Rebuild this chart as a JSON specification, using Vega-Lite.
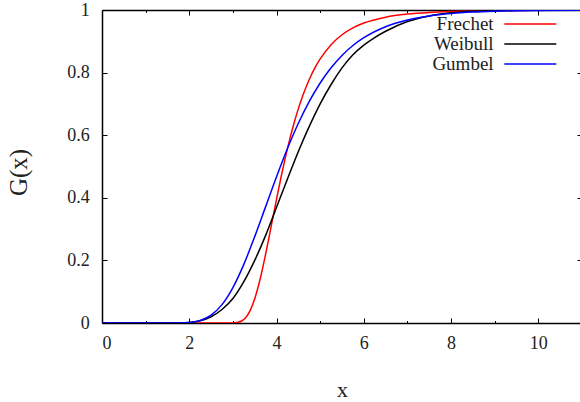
{
  "$schema": "https://vega.github.io/schema/vega-lite/v6.json",
  "width": 480,
  "height": 313,
  "autosize": {"type": "none"},
  "padding": {"left": 102, "top": 10, "right": 0, "bottom": 79},
  "background": "white",
  "config": {
    "view": {"stroke": null},
    "font": "Liberation Serif",
    "axis": {
      "grid": false,
      "domainColor": "#000000",
      "domainWidth": 1.5,
      "tickColor": "#000000",
      "tickWidth": 1,
      "labelFont": "Liberation Serif",
      "labelFontSize": 18,
      "labelColor": "#222222",
      "titleFont": "Liberation Serif",
      "titleFontSize": 22,
      "titleFontWeight": "normal",
      "titleColor": "#222222"
    }
  },
  "data": {
    "values": [
      {"dist": "Frechet", "x": 0, "G": 0},
      {"dist": "Frechet", "x": 2.5, "G": 0},
      {"dist": "Frechet", "x": 2.75, "G": 0},
      {"dist": "Frechet", "x": 3.0, "G": 0.0003},
      {"dist": "Frechet", "x": 3.1, "G": 0.0016},
      {"dist": "Frechet", "x": 3.2, "G": 0.0064},
      {"dist": "Frechet", "x": 3.3, "G": 0.0183},
      {"dist": "Frechet", "x": 3.4, "G": 0.0413},
      {"dist": "Frechet", "x": 3.5, "G": 0.0776},
      {"dist": "Frechet", "x": 3.6, "G": 0.127},
      {"dist": "Frechet", "x": 3.7, "G": 0.1873},
      {"dist": "Frechet", "x": 3.8, "G": 0.2546},
      {"dist": "Frechet", "x": 3.9, "G": 0.3252},
      {"dist": "Frechet", "x": 4.0, "G": 0.396},
      {"dist": "Frechet", "x": 4.1, "G": 0.4641},
      {"dist": "Frechet", "x": 4.2, "G": 0.5276},
      {"dist": "Frechet", "x": 4.3, "G": 0.5859},
      {"dist": "Frechet", "x": 4.4, "G": 0.6383},
      {"dist": "Frechet", "x": 4.5, "G": 0.6849},
      {"dist": "Frechet", "x": 4.6, "G": 0.726},
      {"dist": "Frechet", "x": 4.75, "G": 0.778},
      {"dist": "Frechet", "x": 4.9, "G": 0.8204},
      {"dist": "Frechet", "x": 5.0, "G": 0.8437},
      {"dist": "Frechet", "x": 5.25, "G": 0.8893},
      {"dist": "Frechet", "x": 5.5, "G": 0.921},
      {"dist": "Frechet", "x": 5.75, "G": 0.943},
      {"dist": "Frechet", "x": 6.0, "G": 0.9584},
      {"dist": "Frechet", "x": 6.5, "G": 0.9771},
      {"dist": "Frechet", "x": 7.0, "G": 0.9869},
      {"dist": "Frechet", "x": 7.5, "G": 0.9922},
      {"dist": "Frechet", "x": 8.0, "G": 0.9952},
      {"dist": "Frechet", "x": 9.0, "G": 0.998},
      {"dist": "Frechet", "x": 10.0, "G": 0.9991},
      {"dist": "Frechet", "x": 11.0, "G": 0.9996},
      {"dist": "Weibull", "x": 0, "G": 0},
      {"dist": "Weibull", "x": 1, "G": 0},
      {"dist": "Weibull", "x": 1.5, "G": 0.00002},
      {"dist": "Weibull", "x": 1.75, "G": 0.0002},
      {"dist": "Weibull", "x": 2.0, "G": 0.0015},
      {"dist": "Weibull", "x": 2.25, "G": 0.007},
      {"dist": "Weibull", "x": 2.5, "G": 0.02},
      {"dist": "Weibull", "x": 2.75, "G": 0.043},
      {"dist": "Weibull", "x": 3.0, "G": 0.078},
      {"dist": "Weibull", "x": 3.25, "G": 0.132},
      {"dist": "Weibull", "x": 3.5, "G": 0.2},
      {"dist": "Weibull", "x": 3.75, "G": 0.28},
      {"dist": "Weibull", "x": 4.0, "G": 0.37},
      {"dist": "Weibull", "x": 4.25, "G": 0.46},
      {"dist": "Weibull", "x": 4.5, "G": 0.548},
      {"dist": "Weibull", "x": 4.75, "G": 0.628},
      {"dist": "Weibull", "x": 5.0, "G": 0.70},
      {"dist": "Weibull", "x": 5.25, "G": 0.762},
      {"dist": "Weibull", "x": 5.5, "G": 0.815},
      {"dist": "Weibull", "x": 5.75, "G": 0.857},
      {"dist": "Weibull", "x": 6.0, "G": 0.888},
      {"dist": "Weibull", "x": 6.25, "G": 0.912},
      {"dist": "Weibull", "x": 6.5, "G": 0.932},
      {"dist": "Weibull", "x": 7.0, "G": 0.963},
      {"dist": "Weibull", "x": 7.5, "G": 0.981},
      {"dist": "Weibull", "x": 8.0, "G": 0.991},
      {"dist": "Weibull", "x": 8.5, "G": 0.996},
      {"dist": "Weibull", "x": 9.0, "G": 0.998},
      {"dist": "Weibull", "x": 9.5, "G": 0.9993},
      {"dist": "Weibull", "x": 10.0, "G": 0.9998},
      {"dist": "Weibull", "x": 11.0, "G": 1},
      {"dist": "Gumbel", "x": 0, "G": 0},
      {"dist": "Gumbel", "x": 1, "G": 0},
      {"dist": "Gumbel", "x": 1.5, "G": 0.00003},
      {"dist": "Gumbel", "x": 1.75, "G": 0.0003},
      {"dist": "Gumbel", "x": 2.0, "G": 0.0019},
      {"dist": "Gumbel", "x": 2.25, "G": 0.0082},
      {"dist": "Gumbel", "x": 2.5, "G": 0.025},
      {"dist": "Gumbel", "x": 2.75, "G": 0.0587},
      {"dist": "Gumbel", "x": 3.0, "G": 0.1132},
      {"dist": "Gumbel", "x": 3.25, "G": 0.1873},
      {"dist": "Gumbel", "x": 3.5, "G": 0.276},
      {"dist": "Gumbel", "x": 3.75, "G": 0.3718},
      {"dist": "Gumbel", "x": 4.0, "G": 0.4674},
      {"dist": "Gumbel", "x": 4.25, "G": 0.5573},
      {"dist": "Gumbel", "x": 4.5, "G": 0.638},
      {"dist": "Gumbel", "x": 4.75, "G": 0.708},
      {"dist": "Gumbel", "x": 5.0, "G": 0.7668},
      {"dist": "Gumbel", "x": 5.25, "G": 0.8154},
      {"dist": "Gumbel", "x": 5.5, "G": 0.8549},
      {"dist": "Gumbel", "x": 5.75, "G": 0.8865},
      {"dist": "Gumbel", "x": 6.0, "G": 0.9115},
      {"dist": "Gumbel", "x": 6.5, "G": 0.9467},
      {"dist": "Gumbel", "x": 7.0, "G": 0.9682},
      {"dist": "Gumbel", "x": 7.5, "G": 0.9811},
      {"dist": "Gumbel", "x": 8.0, "G": 0.9888},
      {"dist": "Gumbel", "x": 8.5, "G": 0.9934},
      {"dist": "Gumbel", "x": 9.0, "G": 0.9961},
      {"dist": "Gumbel", "x": 10.0, "G": 0.9986},
      {"dist": "Gumbel", "x": 11.0, "G": 0.9995}
    ]
  },
  "layer": [
    {
      "mark": {"type": "line", "strokeWidth": 1.5, "interpolate": "monotone", "clip": true},
      "encoding": {
        "x": {
          "field": "x", "type": "quantitative",
          "scale": {"domain": [0, 11], "nice": false, "zero": false},
          "axis": {
            "orient": "bottom",
            "title": "x",
            "values": [0, 1, 2, 3, 4, 5, 6, 7, 8, 9, 10],
            "labelExpr": "datum.value % 2 === 0 ? datum.label : ''",
            "tickSize": {"condition": {"test": "datum.value % 2 === 0", "value": -5}, "value": -2.5},
            "labelBaseline": "alphabetic",
            "labelPadding": 30,
            "titleX": 240,
            "titleY": 73,
            "titleBaseline": "alphabetic",
            "titleAlign": "center"
          }
        },
        "y": {
          "field": "G", "type": "quantitative",
          "scale": {"domain": [0, 1], "nice": false},
          "axis": {
            "orient": "left",
            "title": "G(x)",
            "values": [0, 0.2, 0.4, 0.6, 0.8, 1],
            "format": "~g",
            "tickSize": -5,
            "labelPadding": 17.7,
            "titleX": -84,
            "titleY": 162,
            "titleFontSize": 25,
            "titleAngle": -90,
            "titleAlign": "center",
            "titleBaseline": "middle"
          }
        },
        "color": {
          "field": "dist", "type": "nominal",
          "scale": {"domain": ["Frechet", "Weibull", "Gumbel"], "range": ["#ff0000", "#000000", "#0000ff"]},
          "legend": {
            "orient": "none",
            "legendX": 418.8,
            "legendY": 4.5,
            "title": null,
            "symbolType": "M-5,0H5",
            "symbolSize": 108,
            "symbolStrokeWidth": 1.5,
            "labelFont": "Liberation Serif",
            "labelFontSize": 19,
            "labelColor": "#222222",
            "labelAlign": "right",
            "labelOffset": -46.2,
            "rowPadding": -0.5
          }
        }
      }
    },
    {
      "mark": {"type": "line", "opacity": 0},
      "encoding": {
        "x": {
          "field": "x", "type": "quantitative",
          "scale": {"domain": [0, 11], "nice": false, "zero": false},
          "axis": {
            "orient": "top",
            "title": null,
            "labels": false,
            "values": [0, 1, 2, 3, 4, 5, 6, 7, 8, 9, 10],
            "tickSize": {"condition": {"test": "datum.value % 2 === 0", "value": -5}, "value": -2.5}
          }
        },
        "y": {
          "field": "G", "type": "quantitative",
          "scale": {"domain": [0, 1], "nice": false},
          "axis": {
            "orient": "right",
            "title": null,
            "labels": false,
            "values": [0, 0.2, 0.4, 0.6, 0.8, 1],
            "tickSize": -5
          }
        },
        "detail": {"field": "dist"}
      }
    }
  ],
  "resolve": {"axis": {"x": "independent", "y": "independent"}}
}
